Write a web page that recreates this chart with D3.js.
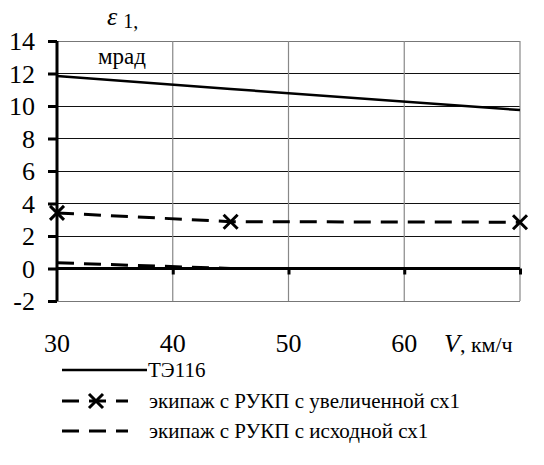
<!DOCTYPE html>
<html>
<head>
<meta charset="utf-8">
<script src="https://cdn.jsdelivr.net/npm/d3@7"></script>
</head>
<body style="margin:0">
<svg id="chart" width="544" height="465"></svg>
<script>
// Speed, km/h
const speeds = [30, 45, 70];
// ε1, mrad
const te116 = [11.85, 11.05, 9.75];
const increasedCx1 = [3.42, 2.88, 2.85];
const originalCx1 = [0.35, 0.0, 0.0];

const xTicks = [30, 40, 50, 60, 70];
const xTickLabels = ["30", "40", "50", "60"];
const yTicks = [-2, 0, 2, 4, 6, 8, 10, 12, 14];

const seriesNames = [
  "ТЭ116",
  "экипаж с РУКП с увеличенной сх1",
  "экипаж с РУКП с исходной сх1"
];

const svg = d3.select("#chart");
const x = d3.scaleLinear().domain([30, 70]).range([57, 520]);
const y = d3.scaleLinear().domain([-2, 14]).range([301, 41]);

// serif text helper
const serif = sel => sel.style("font-family", '"Times New Roman"');

// horizontal grid
svg.append("g").selectAll("line").data(yTicks.filter(d => d !== 0)).join("line")
  .attr("x1", x(30)).attr("x2", x(70))
  .attr("y1", d => y(d)).attr("y2", d => y(d))
  .attr("stroke", d => (d === 14 || d === -2) ? "#777" : "#111")
  .attr("stroke-width", 1).attr("shape-rendering", "crispEdges");

// vertical grid
svg.append("g").selectAll("line").data(xTicks.slice(1)).join("line")
  .attr("x1", d => x(d)).attr("x2", d => x(d))
  .attr("y1", y(14)).attr("y2", y(-2))
  .attr("stroke", "#888").attr("stroke-width", 1.2);

// x axis along zero with downward ticks
const gx = svg.append("g").attr("transform", `translate(0,${y(0)})`)
  .call(d3.axisBottom(x).tickValues(xTicks.slice(1)).tickSize(6).tickFormat(""));
gx.select(".domain").attr("d", `M${x(30)},0H${x(70)}`).attr("stroke", "#000").attr("stroke-width", 3);
gx.selectAll(".tick line").attr("stroke", "#000").attr("stroke-width", 3);
gx.selectAll(".tick text").remove();

// y axis: line and tick marks from the axis generator
const gy = svg.append("g").attr("transform", `translate(${x(30)},0)`)
  .call(d3.axisLeft(y).tickValues(yTicks).tickSize(9).tickFormat(""));
gy.select(".domain").attr("d", `M0,${y(14)}V${y(-2)}`).attr("stroke", "#000").attr("stroke-width", 3);
gy.selectAll(".tick line").attr("stroke", "#000").attr("stroke-width", 3);
gy.selectAll(".tick text").remove();

// y tick labels
svg.append("g").selectAll("text").data(yTicks).join("text")
  .call(serif).attr("font-size", 26)
  .attr("x", x(30) - 22).attr("y", d => y(d) + 9)
  .attr("text-anchor", "end").text(d => String(d));

// x tick labels below the plot
svg.append("g").selectAll("text").data(xTickLabels).join("text")
  .call(serif).attr("font-size", 26)
  .attr("x", d => x(+d)).attr("y", 352)
  .attr("text-anchor", "middle").text(d => d);

// x axis title
const xt = svg.append("text").call(serif).attr("font-size", 22).attr("x", 444).attr("y", 352);
xt.append("tspan").attr("font-style", "italic").attr("font-size", 26).text("V");
xt.append("tspan").text(", км/ч");

// y axis title
const yt = svg.append("text").call(serif).attr("font-size", 26).attr("x", 107).attr("y", 25);
yt.append("tspan").attr("font-style", "italic").text("ε");
yt.append("tspan").attr("dx", 6).attr("dy", 3).attr("font-size", 20).text("1,");
svg.append("text").call(serif).attr("font-size", 23).attr("x", 98).attr("y", 64).text("мрад");

// series lines
const lineGen = d3.line().x(d => x(d[0])).y(d => y(d[1]));
const zip = vals => speeds.map((s, i) => [s, vals[i]]);

svg.append("path").attr("d", lineGen(zip(originalCx1)))
  .attr("fill", "none").attr("stroke", "#000").attr("stroke-width", 3)
  .attr("stroke-dasharray", "17,10");
svg.append("path").attr("d", lineGen(zip(increasedCx1)))
  .attr("fill", "none").attr("stroke", "#000").attr("stroke-width", 3)
  .attr("stroke-dasharray", "17,10");
svg.append("path").attr("d", lineGen(zip(te116)))
  .attr("fill", "none").attr("stroke", "#000").attr("stroke-width", 2.5);

// cross markers
const cross = (sel, cx, cy, r) => sel.append("path")
  .attr("d", `M${cx - r},${cy - r}L${cx + r},${cy + r}M${cx - r},${cy + r}L${cx + r},${cy - r}`)
  .attr("stroke", "#000").attr("stroke-width", 3).attr("fill", "none");
const markers = svg.append("g");
zip(increasedCx1).forEach(d => cross(markers, x(d[0]), y(d[1]), 7));

// legend
const legend = svg.append("g");
const rows = [370, 401, 431];
legend.append("line").attr("x1", 62).attr("x2", 147).attr("y1", rows[0]).attr("y2", rows[0])
  .attr("stroke", "#000").attr("stroke-width", 2.5);
legend.append("line").attr("x1", 62).attr("x2", 128).attr("y1", rows[1]).attr("y2", rows[1])
  .attr("stroke", "#000").attr("stroke-width", 3).attr("stroke-dasharray", "17,10");
cross(legend, 96, rows[1], 7);
legend.append("line").attr("x1", 62).attr("x2", 128).attr("y1", rows[2]).attr("y2", rows[2])
  .attr("stroke", "#000").attr("stroke-width", 3).attr("stroke-dasharray", "17,10");
legend.selectAll("text").data(seriesNames).join("text")
  .call(serif).attr("font-size", 21)
  .attr("x", (d, i) => i === 0 ? 148 : 149).attr("y", (d, i) => rows[i] + 7)
  .text(d => d);
</script>
</body>
</html>
